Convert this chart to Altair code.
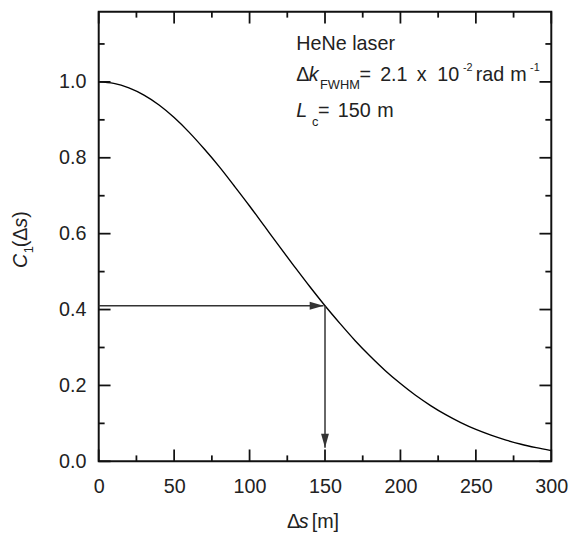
import altair as alt
import pandas as pd

# ---- data ----
delta_s = [0, 10, 20, 30, 40, 50, 60, 70, 80, 90, 100, 110, 120, 130, 140, 150,
           160, 170, 180, 190, 200, 210, 220, 230, 240, 250, 260, 270, 280, 290, 300]
c1_vals = [1.000, 0.996, 0.984, 0.965, 0.939, 0.906, 0.867, 0.823, 0.776, 0.725,
           0.673, 0.619, 0.565, 0.512, 0.460, 0.410, 0.363, 0.318, 0.277, 0.239,
           0.205, 0.174, 0.147, 0.123, 0.102, 0.084, 0.069, 0.056, 0.045, 0.036, 0.028]

x_major = [0, 50, 100, 150, 200, 250, 300]
x_minor = [25, 75, 125, 175, 225, 275]
y_major = [0.0, 0.2, 0.4, 0.6, 0.8, 1.0]
y_minor = [0.1, 0.3, 0.5, 0.7, 0.9, 1.1]

lc_s = 150          # coherence length
lc_c1 = 0.41        # C1 value at Lc
h_arrow_end = 149   # horizontal arrow tip
v_arrow_end = 0.036 # vertical arrow tip

W, H = 459, 456
FONT = "Liberation Sans"
TXT = "#222222"

xs = alt.Scale(domain=[0, 300], nice=False, zero=False)
ys = alt.Scale(domain=[0, 1.185], nice=False, zero=False)

x_axis = alt.Axis(values=x_major, format="d", ticks=False, tickSize=0, domain=False, grid=False,
                  labelPadding=16, labelFontSize=20, labelFont=FONT, labelColor=TXT,
                  labelFlush=False, labelOverlap=False, title=None)
y_axis = alt.Axis(values=y_major, format=".1f", ticks=False, tickSize=0, domain=False, grid=False,
                  labelPadding=13, labelFontSize=20, labelFont=FONT, labelColor=TXT,
                  labelFlush=False, labelOverlap=False, title=None)


def X(field="s"):
    return alt.X(f"{field}:Q", scale=xs, axis=x_axis)


def Y(field="c"):
    return alt.Y(f"{field}:Q", scale=ys, axis=y_axis)


layers = []

# curve
curve_df = pd.DataFrame({"s": delta_s, "c": c1_vals})
layers.append(alt.Chart(curve_df).mark_line(color="black", strokeWidth=1.4, interpolate="monotone")
              .encode(x=X(), y=Y()))

# inward ticks on all four sides
TW = 1.8
for vals, ln in [(x_major, 12), (x_minor, 6)]:
    d = pd.DataFrame({"s": vals})
    layers.append(alt.Chart(d).mark_rule(color="#111", strokeWidth=TW)
                  .encode(x=X(), y=alt.value(H), y2=alt.value(H - ln)))
    layers.append(alt.Chart(d).mark_rule(color="#111", strokeWidth=TW)
                  .encode(x=X(), y=alt.value(0), y2=alt.value(ln)))
for vals, ln in [(y_major, 12), (y_minor, 6)]:
    d = pd.DataFrame({"c": vals})
    layers.append(alt.Chart(d).mark_rule(color="#111", strokeWidth=TW)
                  .encode(y=Y(), x=alt.value(0), x2=alt.value(ln)))
    layers.append(alt.Chart(d).mark_rule(color="#111", strokeWidth=TW)
                  .encode(y=Y(), x=alt.value(W), x2=alt.value(W - ln)))

# arrows
ARC = "#333333"
h_df = pd.DataFrame({"s": [0], "s2": [h_arrow_end], "c": [lc_c1]})
layers.append(alt.Chart(h_df).mark_rule(color=ARC, strokeWidth=1.5)
              .encode(x=X(), x2="s2:Q", y=Y()))
v_df = pd.DataFrame({"s": [lc_s], "c": [lc_c1], "c2": [v_arrow_end]})
layers.append(alt.Chart(v_df).mark_rule(color=ARC, strokeWidth=1.5)
              .encode(x=X(), y=Y(), y2="c2:Q"))

head_r = pd.DataFrame({"s": [h_arrow_end], "c": [lc_c1]})
layers.append(alt.Chart(head_r).mark_point(shape="M0,0 L-2,-0.57 L-2,0.57 Z", size=196, filled=True,
                                           color=ARC, opacity=1, strokeWidth=0)
              .encode(x=X(), y=Y()))
head_d = pd.DataFrame({"s": [lc_s], "c": [v_arrow_end]})
layers.append(alt.Chart(head_d).mark_point(shape="M0,0 L-0.57,-2 L0.57,-2 Z", size=196, filled=True,
                                           color=ARC, opacity=1, strokeWidth=0)
              .encode(x=X(), y=Y()))

# annotation (pieces: text, dx, dy, size, italic)
ann_x, ann_y = 131, 1.0
pieces = [
    ("HeNe laser", 0, -32, 20, False),
    ("\u0394", 0, -1, 20, False),
    ("k", 12.5, -1, 20, True),
    ("FWHM", 24, 7.5, 13, False),
    ("=", 64, -1, 20, False),
    ("2.1", 85, -1, 20, False),
    ("x", 122, -1, 20, False),
    ("10", 143, -1, 20, False),
    ("-2", 169, -11, 11, False),
    ("rad", 182, -1, 20, False),
    ("m", 217, -1, 20, False),
    ("-1", 237, -11, 11, False),
    ("L", 0, 36, 20, True),
    ("c", 16, 45, 13, False),
    ("=", 22, 36, 20, False),
    ("150", 42, 36, 20, False),
    ("m", 82, 36, 20, False),
]
for t, dx, dy, fs, it in pieces:
    layers.append(alt.Chart().mark_text(text=t, align="left", baseline="alphabetic", dx=dx, dy=dy,
                                        fontSize=fs, font=FONT, color=TXT,
                                        fontStyle="italic" if it else "normal")
                  .encode(x=alt.datum(ann_x, scale=xs), y=alt.datum(ann_y, scale=ys)))

# x-axis title: Δs [m]
for t, px, it in [("\u0394", 191, False), ("s", 203, True), ("[m]", 216, False)]:
    layers.append(alt.Chart().mark_text(text=t, align="left", baseline="alphabetic", fontSize=20,
                                        font=FONT, color=TXT, fontStyle="italic" if it else "normal")
                  .encode(x=alt.value(px), y=alt.value(H + 68)))

# y-axis title: C1(Δs), rotated
for t, dx, dy, fs, it in [("C", 0, 0, 20, True), ("1", 15, 6, 13, False), ("(\u0394", 21, 0, 20, False),
                          ("s", 41, 0, 20, True), (")", 51, 0, 20, False)]:
    layers.append(alt.Chart().mark_text(text=t, align="left", baseline="alphabetic", angle=270,
                                        dx=dx, dy=dy, fontSize=fs, font=FONT, color=TXT,
                                        fontStyle="italic" if it else "normal")
                  .encode(x=alt.value(-73), y=alt.value(260)))

chart = alt.layer(*layers).properties(
    width=W, height=H,
    padding={"left": 92, "top": 0, "right": 21, "bottom": 73},
    autosize=alt.AutoSizeParams(type="none"),
    background="white",
).configure_view(stroke="#111", strokeWidth=2)

chart.save("out.html", embed_options={"renderer": "svg", "actions": False})
